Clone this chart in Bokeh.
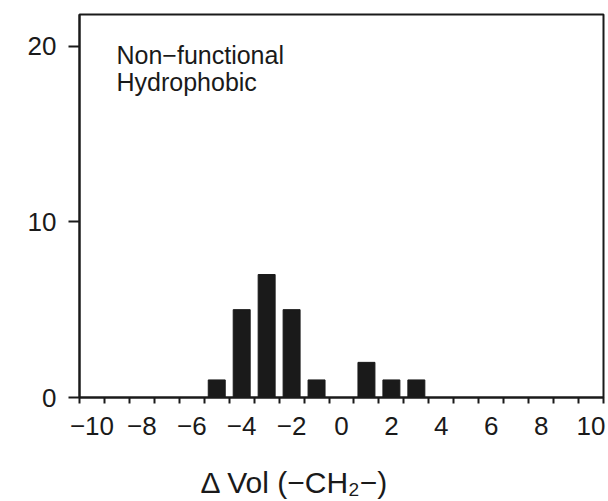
from bokeh.plotting import figure
from bokeh.models import FixedTicker, Label, Range1d, Title
from bokeh.embed import file_html
from bokeh.resources import INLINE

# Data: change in volume (number of -CH2- groups) and counts
delta_vol = [-5, -4, -3, -2, -1, 1, 2, 3]
counts = [1, 5, 7, 5, 1, 2, 1, 1]

x_tick_values = [-10, -8, -6, -4, -2, 0, 2, 4, 6, 8, 10]
x_tick_labels = ["\u221210", "\u22128", "\u22126", "\u22124", "\u22122", "0", "2", "4", "6", "8", "10"]
y_tick_values = [0, 10, 20]
annotation_lines = ["Non\u2212functional", "Hydrophobic"]
x_title = "\u0394 Vol (\u2212CH\u2082\u2212)"

FONT = "Liberation Sans"
INK = "#1a1a1a"

bin_centers = list(range(-10, 11))
bin_edges = [c - 0.5 for c in bin_centers] + [bin_centers[-1] + 0.5]

p = figure(width=608, height=501,
           x_range=Range1d(-10.5, 10.5), y_range=Range1d(0, 21.8),
           output_backend="svg", toolbar_location=None,
           min_border_left=79, min_border_right=5,
           min_border_top=14, min_border_bottom=104)

p.background_fill_color = "white"
p.border_fill_color = "white"
p.outline_line_color = INK
p.outline_line_width = 2
p.xgrid.visible = False
p.ygrid.visible = False

p.vbar(x=delta_vol, top=counts, width=0.68, bottom=0,
       fill_color=INK, line_color=INK)

# x axis
xa = p.xaxis[0]
xa.ticker = FixedTicker(ticks=x_tick_values, minor_ticks=bin_edges)
xa.major_label_overrides = {v: s for v, s in zip(x_tick_values, x_tick_labels)}
xa.major_tick_out = 0
xa.major_tick_in = 0
xa.minor_tick_out = 6
xa.minor_tick_in = 0
xa.minor_tick_line_color = INK
xa.minor_tick_line_width = 2
xa.axis_line_color = INK
xa.axis_line_width = 2
xa.major_label_standoff = 13
xa.major_label_text_font = FONT
xa.major_label_text_font_size = "26px"
xa.major_label_text_color = INK
# blank spacer between tick labels and the title
xa.axis_label = " "
xa.axis_label_standoff = 12
xa.axis_label_text_font_size = "10px"

# y axis
ya = p.yaxis[0]
ya.ticker = FixedTicker(ticks=y_tick_values, minor_ticks=[])
ya.major_tick_out = 11
ya.major_tick_in = 0
ya.major_tick_line_color = INK
ya.major_tick_line_width = 2
ya.minor_tick_out = 0
ya.minor_tick_in = 0
ya.axis_line_color = INK
ya.axis_line_width = 2
ya.major_label_standoff = 12
ya.major_label_text_font = FONT
ya.major_label_text_font_size = "26px"
ya.major_label_text_color = INK

# In-plot annotation
for i, line in enumerate(annotation_lines):
    p.add_layout(Label(x=37, y=343 - 27 * i, x_units="screen", y_units="screen",
                       text=line, text_font=FONT, text_font_size="25px",
                       text_color=INK, text_baseline="alphabetic",
                       text_align="left"))

# x-axis title placed below the axis, shifted left like the reference
p.add_layout(Title(text=x_title, align="left", offset=121, standoff=0,
                   text_font=FONT, text_font_size="30px", text_line_height=1.0,
                   text_font_style="normal", text_color=INK), "below")

open("out.html", "w").write(file_html(p, INLINE))
